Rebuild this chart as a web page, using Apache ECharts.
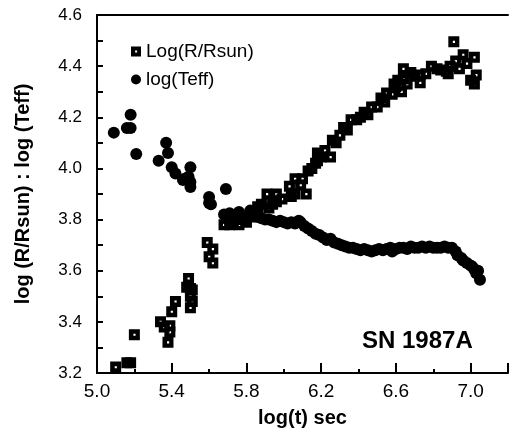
<!DOCTYPE html>
<html>
<head>
<meta charset="utf-8">
<script src="https://cdn.jsdelivr.net/npm/echarts@6/dist/echarts.min.js"></script>
<style>html,body{margin:0;padding:0;background:#fff}#c{width:511px;height:437px}</style>
</head>
<body>
<div id="c"></div>
<script>
const xTickLabels = ['5.0','5.4','5.8','6.2','6.6','7.0'];
const yTickLabels = ['3.2','3.4','3.6','3.8','4.0','4.2','4.4','4.6'];
const seriesNames = ['Log(R/Rsun)','log(Teff)'];

const radiusT = [5.10,5.16,5.18,5.20,5.34,5.36,5.38,5.39,5.39,5.40,5.42,5.48,5.49,5.50,5.50,5.50,5.51,5.51,5.59,5.60,5.62,5.62,
5.68,5.71,5.73,5.76,5.78,5.80,5.82,5.84,5.86,5.86,5.88,5.91,5.92,5.94,5.96,5.96,5.99,6.03,6.04,6.06,6.06,6.09,6.10,6.12,6.13,6.15,6.17,6.18,6.18,
6.20,6.22,6.25,6.26,6.28,6.30,6.32,6.34,6.36,6.39,6.41,6.43,6.45,6.47,6.50,6.52,6.54,6.55,6.58,6.59,6.60,6.61,6.63,6.64,6.64,6.66,6.68,6.70,
6.73,6.73,6.76,6.79,6.82,6.84,6.87,6.88,6.89,6.91,6.92,6.94,6.96,6.98,7.00,7.02,7.02,7.03];
const radiusV = [3.223,3.24,3.24,3.35,3.40,3.38,3.32,3.36,3.385,3.44,3.48,3.535,3.57,3.53,3.50,3.455,3.525,3.48,3.71,3.655,3.685,3.63,
3.78,3.78,3.795,3.78,3.80,3.79,3.81,3.83,3.85,3.83,3.86,3.90,3.845,3.86,3.87,3.90,3.88,3.93,3.89,3.96,3.90,3.935,3.96,3.90,3.99,4.00,4.02,4.03,4.06,
4.045,4.07,4.045,4.11,4.10,4.13,4.16,4.15,4.19,4.19,4.20,4.22,4.21,4.24,4.24,4.275,4.26,4.295,4.29,4.33,4.32,4.345,4.30,4.35,4.39,4.33,4.375,4.36,
4.365,4.335,4.37,4.40,4.39,4.385,4.38,4.37,4.40,4.495,4.42,4.39,4.445,4.41,4.345,4.435,4.33,4.365];

const teffT = [5.09,5.16,5.18,5.18,5.21,5.33,5.37,5.38,5.40,5.42,5.46,5.47,5.49,5.50,5.50,5.50,5.60,5.60,5.61,5.69,5.68,5.70,5.71,5.73,5.76,5.78,
5.80,5.82,5.84,5.86,5.88,5.90,5.92,5.94,5.96,5.98,6.00,6.02,6.04,6.06,6.08,6.09,6.11,6.13,6.15,6.17,6.19,6.21,6.23,6.25,6.27,6.29,6.31,6.33,6.35,
6.37,6.39,6.41,6.43,6.45,6.47,6.49,6.51,6.53,6.55,6.57,6.58,6.60,6.62,6.64,6.66,6.68,6.70,6.72,6.74,6.76,6.78,6.80,6.82,6.84,6.86,6.88,6.90,
6.92,6.93,6.95,6.96,6.98,7.00,7.01,7.02,7.03,7.04,7.05];
const teffV = [4.14,4.158,4.158,4.21,4.056,4.03,4.10,4.06,4.005,3.98,3.955,3.96,3.967,4.005,3.947,3.927,3.888,3.865,3.86,3.92,3.82,3.80,3.825,3.81,3.83,3.81,
3.81,3.835,3.82,3.81,3.805,3.80,3.80,3.795,3.79,3.795,3.79,3.785,3.79,3.785,3.795,3.79,3.775,3.765,3.755,3.745,3.74,3.73,3.72,3.725,3.71,3.705,3.70,3.695,3.69,
3.69,3.685,3.68,3.685,3.68,3.675,3.68,3.685,3.68,3.685,3.69,3.675,3.685,3.69,3.69,3.685,3.695,3.69,3.69,3.695,3.69,3.695,3.69,3.69,3.69,3.695,3.69,3.69,
3.675,3.66,3.65,3.64,3.63,3.62,3.615,3.605,3.59,3.60,3.565];

const FONT = 'Liberation Sans';
const sqPath = 'path://M0,0H10V10H0Z M4.1,4.1V6.1H6.1V4.1Z';

const chart = echarts.init(document.getElementById('c'), null, {renderer:'canvas'});
chart.setOption({
  animation:false,
  backgroundColor:'#fff',
  grid:{left:97, top:15, bottom:64, right:-6, containLabel:false},
  title:{text:'SN 1987A', left:357, top:324, textStyle:{fontFamily:FONT, fontSize:24, fontWeight:'bold', color:'#000'}},
  legend:{
    orient:'vertical', left:126, top:37, itemWidth:10, itemHeight:10, itemGap:9,
    textStyle:{fontFamily:FONT, fontSize:19, color:'#000'},
    data:[{name:seriesNames[0], icon:sqPath},{name:seriesNames[1], icon:'circle'}]
  },
  xAxis:[{
    type:'value', min:5.0, max:7.2, interval:0.4,
    name:'log(t) sec', nameLocation:'middle', nameGap:35,
    nameTextStyle:{fontFamily:FONT, fontSize:20, fontWeight:'bold', color:'#000'},
    axisLine:{lineStyle:{color:'#000', width:2}},
    axisTick:{inside:true, length:10, lineStyle:{color:'#000', width:2}},
    minorTick:{show:true, splitNumber:2, length:4, lineStyle:{color:'#000', width:2}},
    splitLine:{show:false},
    axisLabel:{fontFamily:FONT, fontSize:19, color:'#000', margin:9,
      formatter:v=>{const s=v.toFixed(1); return xTickLabels.includes(s)?s:'';}}
  },{
    type:'value', min:5.0, max:7.2, position:'top',
    axisLine:{show:true, onZero:false, lineStyle:{color:'#000', width:2}},
    axisTick:{show:false}, axisLabel:{show:false}, splitLine:{show:false}
  }],
  yAxis:{
    type:'value', min:3.2, max:4.6, interval:0.2,
    name:'log (R/Rsun) : log (Teff)', nameLocation:'middle', nameGap:64,
    nameTextStyle:{fontFamily:FONT, fontSize:20, fontWeight:'bold', color:'#000'},
    axisLine:{show:true, lineStyle:{color:'#000', width:2}},
    axisTick:{inside:true, length:6, lineStyle:{color:'#000', width:2}},
    minorTick:{show:true, splitNumber:2, length:6, lineStyle:{color:'#000', width:2}},
    splitLine:{show:false},
    axisLabel:{fontFamily:FONT, fontSize:17, color:'#000', margin:15,
      formatter:v=>{const s=v.toFixed(1); return yTickLabels.includes(s)?s:'';}}
  },
  series:[
    {name:seriesNames[1], type:'scatter', symbol:'circle', symbolSize:12,
     itemStyle:{color:'#000', opacity:1}, data:teffT.map((t,i)=>[t,teffV[i]])},
    {name:seriesNames[0], type:'scatter', symbol:sqPath, symbolSize:11,
     itemStyle:{color:'#000', opacity:1}, data:radiusT.map((t,i)=>[t,radiusV[i]])}
  ]
});
</script>
</body>
</html>
